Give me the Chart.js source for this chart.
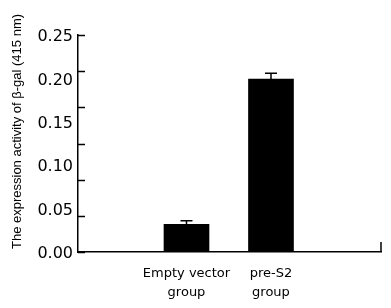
<!DOCTYPE html>
<html>
<head>
<meta charset="utf-8">
<script src="https://cdn.jsdelivr.net/npm/chart.js@4.4.1/dist/chart.umd.min.js"></script>
<style>
html,body{margin:0;padding:0;background:#fff;}
#c{display:block;}
</style>
</head>
<body>
<canvas id="c" width="391" height="308"></canvas>
<script>
// ---- data ----
const categories = [["Empty vector", "group"], ["pre-S2", "group"]];
const values = [0.0318, 0.1993];
const errors = [0.0042, 0.0066];
const yLabelTicks = [0, 0.05, 0.10, 0.15, 0.20, 0.25];
const yTickMarks = [0, 0.0417, 0.0833, 0.125, 0.1667, 0.2083, 0.25];
const yTitle = "The expression activity of \u03b2-gal (415 nm)";
const yMin = 0, yMax = 0.25;
const xMin = -1.284, xMax = 2.302;

const barData = categories.map((c, i) => ({ x: i, y: values[i] }));

const extras = {
  id: 'extras',
  afterDatasetsDraw(chart) {
    const ctx = chart.ctx;
    const ys = chart.scales.y, xs = chart.scales.x;
    ctx.save();
    ctx.strokeStyle = '#000';
    ctx.lineWidth = 1.5;
    // error bars
    values.forEach((v, i) => {
      const x = xs.getPixelForValue(i);
      const y0 = ys.getPixelForValue(v);
      const y1 = ys.getPixelForValue(v + errors[i]);
      ctx.beginPath();
      ctx.moveTo(x, y0); ctx.lineTo(x, y1);
      ctx.moveTo(x - 6, y1); ctx.lineTo(x + 6, y1);
      ctx.stroke();
    });
    // inward y tick marks
    const left = chart.chartArea.left;
    yTickMarks.forEach(v => {
      const y = Math.round(ys.getPixelForValue(v)) + 0.5;
      ctx.beginPath();
      ctx.moveTo(left, y); ctx.lineTo(left + 7, y);
      ctx.stroke();
    });
    // right-end x tick
    const xr = xs.getPixelForValue(xMax);
    const yb = ys.getPixelForValue(yMin);
    ctx.beginPath();
    ctx.moveTo(xr, yb); ctx.lineTo(xr, yb - 10);
    ctx.stroke();
    // y title
    ctx.fillStyle = '#000';
    ctx.font = '13px "Liberation Sans", Arial, sans-serif';
    ctx.textAlign = 'center';
    ctx.textBaseline = 'middle';
    ctx.translate(17, 131.5);
    ctx.rotate(-Math.PI / 2);
    ctx.fillText(yTitle, 0, 0);
    ctx.restore();
  }
};

new Chart(document.getElementById('c'), {
  type: 'bar',
  data: {
    datasets: [{
      data: barData,
      backgroundColor: '#000',
      borderWidth: 0,
      barThickness: 45
    }]
  },
  options: {
    responsive: false,
    animation: false,
    events: [],
    layout: { padding: { top: 35, right: 10, left: 0, bottom: 0 } },
    plugins: { legend: { display: false }, tooltip: { enabled: false } },
    scales: {
      x: {
        type: 'linear',
        offset: false,
        min: xMin, max: xMax,
        afterBuildTicks(s) { s.ticks = categories.map((c, i) => ({ value: i })); },
        afterFit(s) { s.height = 56; },
        ticks: {
          autoSkip: false,
          maxRotation: 0,
          padding: 12,
          color: '#000',
          font: { family: '"DejaVu Sans", Verdana, sans-serif', size: 13, lineHeight: 1.45 },
          callback: (v) => categories[v]
        },
        grid: { display: true, drawOnChartArea: false, drawTicks: false, offset: false },
        border: { display: true, color: '#000', width: 1.5 }
      },
      y: {
        type: 'linear',
        min: yMin, max: yMax,
        afterBuildTicks(s) { s.ticks = yLabelTicks.map(v => ({ value: v })); },
        afterFit(s) { s.width = 78; },
        ticks: {
          padding: 5,
          labelOffset: 2,
          color: '#000',
          font: { family: '"DejaVu Sans", Verdana, sans-serif', size: 16 },
          callback: (v) => v.toFixed(2)
        },
        grid: { display: true, drawOnChartArea: false, drawTicks: false },
        border: { display: true, color: '#000', width: 1.5 }
      }
    }
  },
  plugins: [extras]
});
</script>
</body>
</html>
